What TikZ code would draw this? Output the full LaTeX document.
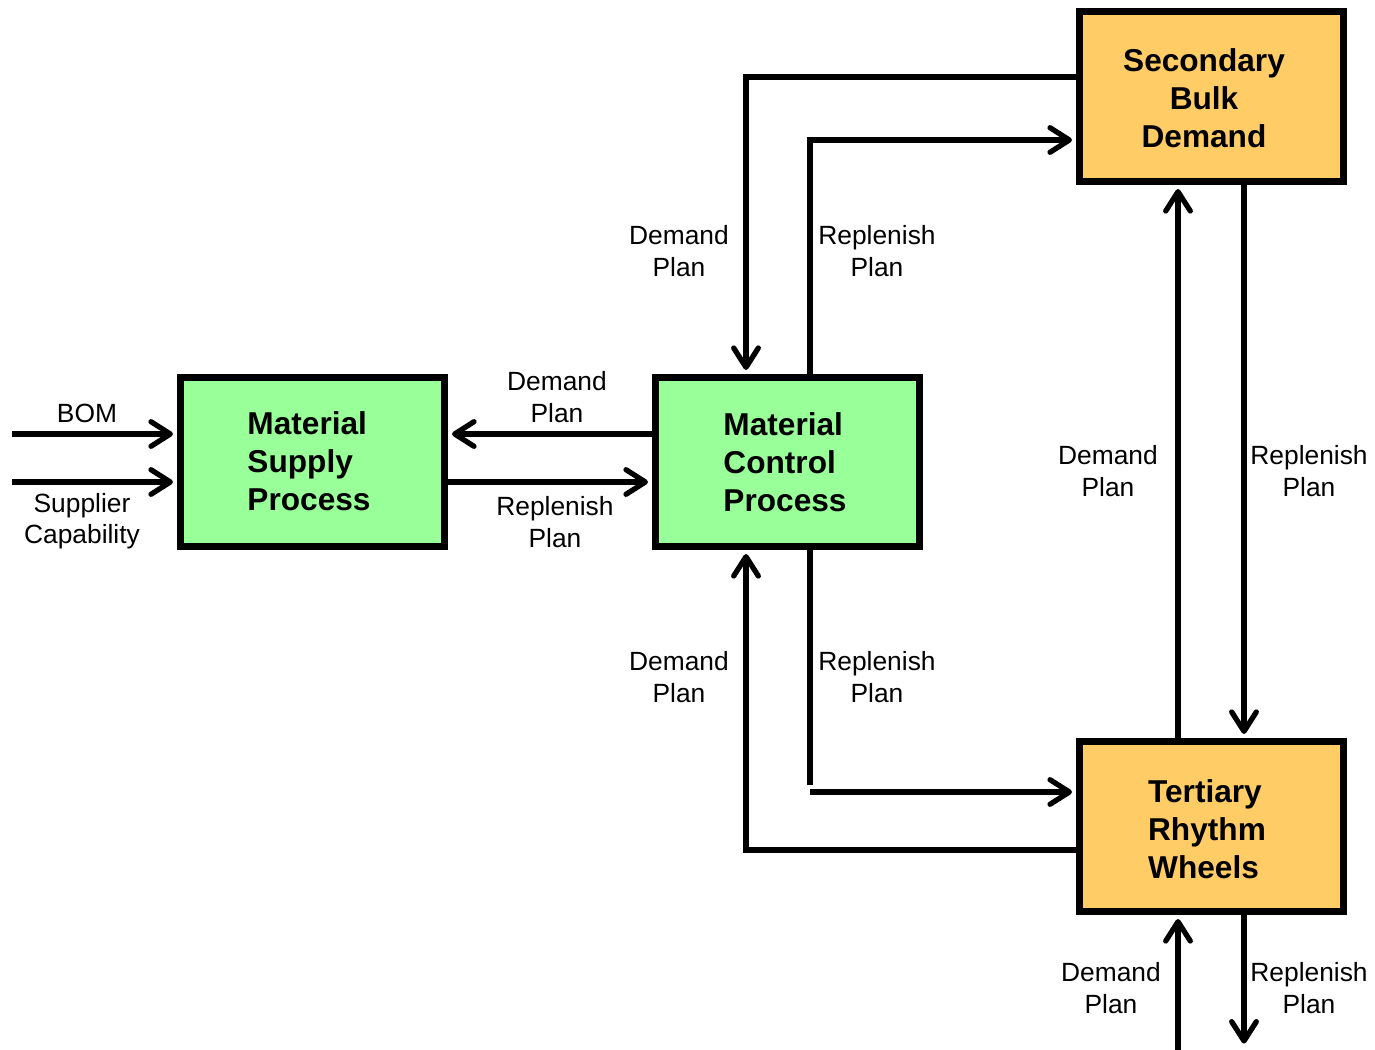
\documentclass[tikz,border=0pt]{standalone}
\usepackage{fontspec}
\setmainfont{Liberation Sans}
\usetikzlibrary{arrows.meta}
\definecolor{procgreen}{HTML}{99FF99}
\definecolor{planorange}{HTML}{FFCC66}
\tikzset{
  procbox/.style={draw=black, line width=3.6pt, minimum width=5.28cm, minimum height=3.38cm,
    inner sep=0pt, align=left, font=\bfseries\fontsize{18pt}{21.5pt}\selectfont},
  greenbox/.style={procbox, fill=procgreen},
  orangebox/.style={procbox, fill=planorange, minimum height=3.4cm},
  wire/.style={line width=3pt},
  flow/.style={wire, -{Straight Barb[length=11pt, width=14pt, line width=3pt, round]}, shorten >=2.5pt},
  lbl/.style={align=center, inner sep=0pt, font=\fontsize{15pt}{18pt}\selectfont}
}
\begin{document}
\begin{tikzpicture}[x=0.02cm, y=-0.02cm]
\useasboundingbox (0,0) rectangle (1375,1050);

% process boxes
\node[greenbox] (msp) at (312.5,462) {};
\node[greenbox] (mcp) at (787.5,462) {};
\node[orangebox] (sbd) at (1211.5,96.5) {};
\node[orangebox] (trw) at (1211.5,826.5) {};

% box captions
\node[procbox, draw=none, minimum width=0pt, minimum height=0pt] (tMsp) at (309,461) {Material\\Supply\\Process};
\node[procbox, draw=none, minimum width=0pt, minimum height=0pt] (tMcp) at (785,462) {Material\\Control\\Process};
\node[procbox, draw=none, minimum width=0pt, minimum height=0pt, align=center] (tSbd) at (1204,98) {Secondary\\Bulk\\Demand};
\node[procbox, draw=none, minimum width=0pt, minimum height=0pt] (tTrw) at (1207,829) {Tertiary\\Rhythm\\Wheels};

% routing points
\coordinate (bomS) at (12,434);
\coordinate (supS) at (12,482);
\coordinate (dTop) at (746,77);
\coordinate (rTop) at (810,140);
\coordinate (dBot) at (746,850);
\coordinate (rBotEnd) at (810,785);
\coordinate (rBot) at (810,792);
\coordinate (dV) at (1178,0);
\coordinate (rV) at (1244,0);
\coordinate (dIn) at (1178,1050);
\coordinate (rOut) at (1244,1048);

% inputs to the supply process
\draw[flow] (bomS) -- (bomS -| msp.west);
\draw[flow] (supS) -- (supS -| msp.west);

% supply <-> control
\draw[flow] (mcp.west |- bomS) -- (msp.east |- bomS);
\draw[flow] (msp.east |- supS) -- (mcp.west |- supS);

% control <-> secondary
\draw[flow] (sbd.west |- dTop) -- (dTop) -- (dTop |- mcp.north);
\draw[flow] (rTop |- mcp.north) -- (rTop) -- (rTop -| sbd.west);

% control <-> tertiary
\draw[flow] (trw.west |- dBot) -- (dBot) -- (dBot |- mcp.south);
\draw[wire] (rBotEnd |- mcp.south) -- (rBotEnd);
\draw[flow] (rBot) -- (rBot -| trw.west);

% secondary <-> tertiary
\draw[flow] (dV |- trw.north) -- (dV |- sbd.south);
\draw[flow] (rV |- sbd.south) -- (rV |- trw.north);

% tertiary in/out
\draw[flow] (dIn) -- (dIn |- trw.south);
\draw[flow] (rOut |- trw.south) -- (rOut);

% labels
\node[lbl] (lBom) at (87,413) {BOM};
\node[lbl] (lSup) at (82,521) {Supplier\\Capability};
\node[lbl] (lD1) at (557,397) {Demand\\Plan};
\node[lbl] (lR1) at (555,522) {Replenish\\Plan};
\node[lbl] (lD2) at (679,251) {Demand\\Plan};
\node[lbl] (lR2) at (877,251) {Replenish\\Plan};
\node[lbl] (lD3) at (679,677) {Demand\\Plan};
\node[lbl] (lR3) at (877,677) {Replenish\\Plan};
\node[lbl] (lD4) at (1108,471) {Demand\\Plan};
\node[lbl] (lR4) at (1309,471) {Replenish\\Plan};
\node[lbl] (lD5) at (1111,988) {Demand\\Plan};
\node[lbl] (lR5) at (1309,988) {Replenish\\Plan};
\end{tikzpicture}
\end{document}
